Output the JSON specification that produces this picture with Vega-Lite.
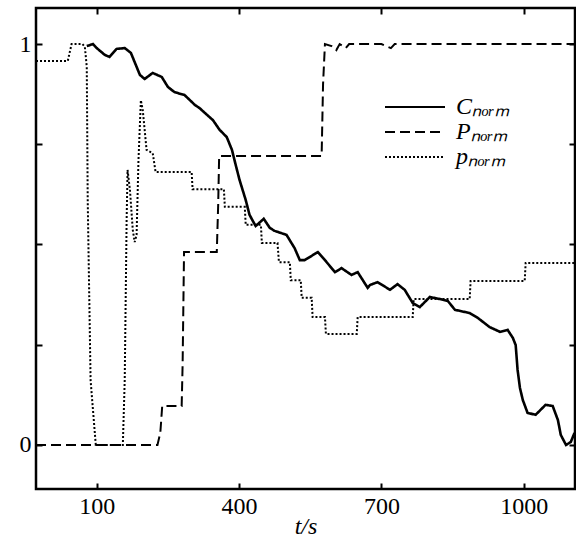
{
  "$schema": "https://vega.github.io/schema/vega-lite/v6.json",
  "width": 539,
  "height": 481,
  "autosize": {"type": "none"},
  "padding": {"left": 36, "top": 8, "right": 1, "bottom": 47},
  "background": "white",
  "config": {
    "view": {"stroke": "black", "strokeWidth": 2.5},
    "font": "Liberation Serif"
  },
  "datasets": {
    "C": [
      {"t": 79, "v": 0.995}, {"t": 92, "v": 1.0}, {"t": 100, "v": 0.99}, {"t": 117, "v": 0.973}, {"t": 127, "v": 0.968},
      {"t": 142, "v": 0.988}, {"t": 159, "v": 0.99}, {"t": 172, "v": 0.978}, {"t": 191, "v": 0.923}, {"t": 201, "v": 0.913},
      {"t": 218, "v": 0.928}, {"t": 237, "v": 0.918}, {"t": 250, "v": 0.893}, {"t": 264, "v": 0.88}, {"t": 285, "v": 0.873},
      {"t": 307, "v": 0.848}, {"t": 317, "v": 0.84}, {"t": 345, "v": 0.81}, {"t": 359, "v": 0.786}, {"t": 374, "v": 0.768},
      {"t": 385, "v": 0.736}, {"t": 393, "v": 0.698}, {"t": 401, "v": 0.661}, {"t": 414, "v": 0.611}, {"t": 422, "v": 0.574},
      {"t": 435, "v": 0.546}, {"t": 452, "v": 0.564}, {"t": 465, "v": 0.541}, {"t": 475, "v": 0.534}, {"t": 500, "v": 0.524},
      {"t": 517, "v": 0.491}, {"t": 528, "v": 0.461}, {"t": 538, "v": 0.461}, {"t": 566, "v": 0.481}, {"t": 581, "v": 0.461},
      {"t": 602, "v": 0.431}, {"t": 616, "v": 0.441}, {"t": 637, "v": 0.424}, {"t": 650, "v": 0.431}, {"t": 671, "v": 0.392},
      {"t": 676, "v": 0.399}, {"t": 692, "v": 0.406}, {"t": 718, "v": 0.387}, {"t": 734, "v": 0.401}, {"t": 749, "v": 0.387},
      {"t": 766, "v": 0.354}, {"t": 781, "v": 0.344}, {"t": 802, "v": 0.369}, {"t": 823, "v": 0.364}, {"t": 840, "v": 0.359},
      {"t": 855, "v": 0.337}, {"t": 886, "v": 0.329}, {"t": 903, "v": 0.317}, {"t": 928, "v": 0.294}, {"t": 950, "v": 0.282},
      {"t": 966, "v": 0.287}, {"t": 977, "v": 0.267}, {"t": 983, "v": 0.249}, {"t": 987, "v": 0.187}, {"t": 992, "v": 0.142},
      {"t": 998, "v": 0.112}, {"t": 1008, "v": 0.08}, {"t": 1025, "v": 0.075}, {"t": 1046, "v": 0.1}, {"t": 1061, "v": 0.097},
      {"t": 1072, "v": 0.062}, {"t": 1078, "v": 0.025}, {"t": 1089, "v": 0.0}, {"t": 1099, "v": 0.007}, {"t": 1107, "v": 0.03}
    ],
    "P": [
      {"t": -28, "v": 0}, {"t": 228, "v": 0}, {"t": 234, "v": 0.03}, {"t": 238, "v": 0.097}, {"t": 279, "v": 0.097},
      {"t": 281, "v": 0.2}, {"t": 284, "v": 0.481}, {"t": 353, "v": 0.481}, {"t": 356, "v": 0.6}, {"t": 358, "v": 0.721},
      {"t": 574, "v": 0.721}, {"t": 577, "v": 0.9}, {"t": 581, "v": 1.0}, {"t": 595, "v": 0.995}, {"t": 605, "v": 0.985},
      {"t": 612, "v": 1.0}, {"t": 625, "v": 0.99}, {"t": 632, "v": 1.0}, {"t": 700, "v": 1.0}, {"t": 720, "v": 0.99},
      {"t": 728, "v": 1.0}, {"t": 1108, "v": 1.0}
    ],
    "p": [
      {"t": -28, "v": 0.958}, {"t": 39, "v": 0.958}, {"t": 47, "v": 1.0}, {"t": 70, "v": 1.0}, {"t": 75, "v": 0.993},
      {"t": 79, "v": 0.943}, {"t": 81, "v": 0.611}, {"t": 87, "v": 0.162}, {"t": 98, "v": 0.0}, {"t": 155, "v": 0.0},
      {"t": 159, "v": 0.162}, {"t": 163, "v": 0.561}, {"t": 165, "v": 0.686}, {"t": 170, "v": 0.636}, {"t": 176, "v": 0.536},
      {"t": 180, "v": 0.506}, {"t": 184, "v": 0.524}, {"t": 188, "v": 0.711}, {"t": 193, "v": 0.86}, {"t": 197, "v": 0.835},
      {"t": 201, "v": 0.786}, {"t": 205, "v": 0.736}, {"t": 218, "v": 0.728}, {"t": 224, "v": 0.681}, {"t": 300, "v": 0.681},
      {"t": 302, "v": 0.638}, {"t": 368, "v": 0.638}, {"t": 370, "v": 0.594}, {"t": 412, "v": 0.594}, {"t": 414, "v": 0.549},
      {"t": 446, "v": 0.549}, {"t": 448, "v": 0.504}, {"t": 481, "v": 0.504}, {"t": 484, "v": 0.456}, {"t": 507, "v": 0.456},
      {"t": 509, "v": 0.411}, {"t": 530, "v": 0.411}, {"t": 532, "v": 0.367}, {"t": 553, "v": 0.367}, {"t": 555, "v": 0.319},
      {"t": 581, "v": 0.319}, {"t": 583, "v": 0.277}, {"t": 648, "v": 0.277}, {"t": 650, "v": 0.319}, {"t": 766, "v": 0.319},
      {"t": 768, "v": 0.364}, {"t": 886, "v": 0.364}, {"t": 888, "v": 0.409}, {"t": 1002, "v": 0.409}, {"t": 1004, "v": 0.454},
      {"t": 1108, "v": 0.454}
    ]
  },
  "layer": [
    {
      "data": {"name": "C"},
      "transform": [{"calculate": "'C'", "as": "s"}],
      "mark": {"type": "point", "opacity": 0},
      "encoding": {
        "x": {"field": "t", "type": "quantitative", "scale": {"domain": [-28, 1108], "nice": false, "zero": false},
          "axis": {"orient": "top", "values": [100, 400, 700, 1000], "labels": false, "domain": false, "grid": false,
            "tickSize": -6, "tickWidth": 2, "tickColor": "black", "title": null}},
        "y": {"field": "v", "type": "quantitative", "scale": {"domain": [-0.11, 1.09], "nice": false, "zero": false},
          "axis": {"orient": "right", "values": [0, 0.25, 0.5, 0.75, 1], "labels": false, "domain": false, "grid": false,
            "tickSize": -6, "tickWidth": 2, "tickColor": "black", "title": null}}
      }
    },
    {
      "data": {"name": "C"},
      "transform": [{"calculate": "'C'", "as": "s"}],
      "mark": {"type": "line", "strokeWidth": 2.6, "color": "black", "clip": true},
      "encoding": {
        "x": {"field": "t", "type": "quantitative",
          "axis": {"orient": "bottom", "values": [100, 400, 700, 1000], "format": "d", "domain": false, "grid": false,
            "tickSize": -6, "tickWidth": 2, "tickColor": "black", "labelFont": "Liberation Serif", "labelFontSize": 24,
            "labelColor": "black", "labelPadding": 11, "title": "t/s", "titleFont": "Liberation Serif", "titleFontSize": 24,
            "titleFontStyle": "italic", "titleFontWeight": "normal", "titleColor": "black", "titleY": 44, "titleBaseline": "alphabetic"}},
        "y": {"field": "v", "type": "quantitative",
          "axis": {"orient": "left", "values": [0, 0.25, 0.5, 0.75, 1], "labelExpr": "datum.value == 1 ? '1' : datum.value == 0 ? '0' : ''",
            "domain": false, "grid": false, "tickSize": -6, "tickWidth": 2, "tickColor": "black", "labelFont": "Liberation Serif",
            "labelFontSize": 24, "labelColor": "black", "labelPadding": 11, "title": null}},
        "strokeDash": {"field": "s", "type": "nominal",
          "scale": {"domain": ["C", "P", "p"], "range": [[1, 0], [10, 5], [2, 2]]},
          "legend": {"orient": "none", "legendX": 347, "legendY": 87, "title": null, "symbolType": "M-1,0H5", "symbolSize": 400,
            "symbolStrokeWidth": 2.2, "symbolStrokeColor": "black", "labelFont": "Liberation Serif", "labelFontSize": 24,
            "labelFontStyle": "italic", "labelColor": "black", "labelOffset": 49, "rowPadding": 1, "padding": 0,
            "labelExpr": "datum.value == 'C' ? 'Cₙₒᵣₘ' : datum.value == 'P' ? 'Pₙₒᵣₘ' : 'pₙₒᵣₘ'"}}
      }
    },
    {
      "data": {"name": "P"},
      "transform": [{"calculate": "'P'", "as": "s"}],
      "mark": {"type": "line", "strokeWidth": 2, "color": "black", "clip": true},
      "encoding": {
        "x": {"field": "t", "type": "quantitative", "axis": null},
        "y": {"field": "v", "type": "quantitative", "axis": null},
        "strokeDash": {"field": "s", "type": "nominal"}
      }
    },
    {
      "data": {"name": "p"},
      "transform": [{"calculate": "'p'", "as": "s"}],
      "mark": {"type": "line", "strokeWidth": 2, "color": "black", "clip": true},
      "encoding": {
        "x": {"field": "t", "type": "quantitative", "axis": null},
        "y": {"field": "v", "type": "quantitative", "axis": null},
        "strokeDash": {"field": "s", "type": "nominal"}
      }
    }
  ],
  "resolve": {"axis": {"x": "independent", "y": "independent"}}
}
